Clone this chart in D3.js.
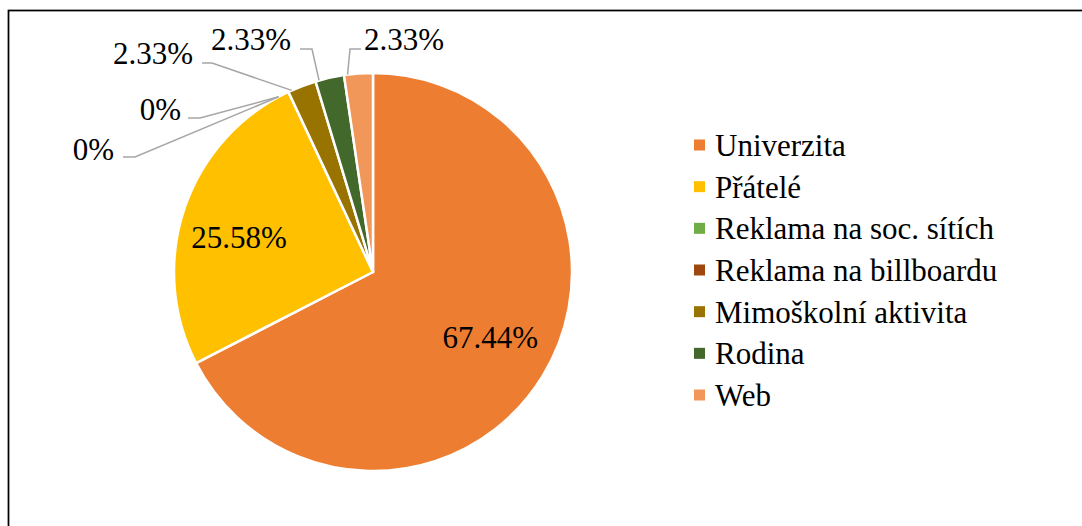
<!DOCTYPE html>
<html>
<head>
<meta charset="utf-8">
<script src="https://cdn.jsdelivr.net/npm/d3@7"></script>
<style>
  html, body { margin: 0; padding: 0; background: #fff; overflow: hidden; }
  #chart { position: relative; width: 1082px; height: 526px; }
  svg { display: block; position: absolute; left: 0; top: 0; }
  .lbl {
    position: absolute; white-space: nowrap; color: #000;
    font-family: "Liberation Serif", Tinos, "Times New Roman", serif;
    font-size: 31px; line-height: 31px; height: 31px;
  }
</style>
</head>
<body>
<div id="chart"></div>
<script>
const categories = [
  'Univerzita',
  'Přátelé',
  'Reklama na soc. sítích',
  'Reklama na billboardu',
  'Mimoškolní aktivita',
  'Rodina',
  'Web',
];
const values = [67.44, 25.58, 0, 0, 2.33, 2.33, 2.33];
const valueLabels = ['67.44%', '25.58%', '0%', '0%', '2.33%', '2.33%', '2.33%'];

const COLORS = ['#ED7D31', '#FFC000', '#70AD47', '#9E480E', '#997300', '#43682B', '#F1975A'];

const W = 1082, H = 526;
const cx = 373, cy = 272, R = 199;
const BASELINE = 26; // px from top of a 31px line box to the text baseline

// inside labels: nudge from the arc centroid
const INSIDE_NUDGE = { 0: [0, 5], 1: [-4, 20] };
// outside labels: elbow point, line end and text anchor (Excel best-fit layout)
const OUTSIDE = {
  2: { elbow: [135, 157], end: [123, 157], text: [114, 160], anchor: 'end' },
  3: { elbow: [200, 118], end: [188, 118], text: [181, 120], anchor: 'end' },
  4: { elbow: [212, 63], end: [202, 63], text: [193, 64], anchor: 'end' },
  5: { elbow: [312, 49], end: [300, 49], text: [291, 50], anchor: 'end' },
  6: { elbow: [350, 49], end: [361, 49], text: [364, 50], anchor: 'start' },
};
const LEADER_SHIFT = -0.055;

const chart = d3.select('#chart');
const svg = chart.append('svg').attr('width', W).attr('height', H);

svg.append('rect')
  .attr('x', 8.5).attr('y', 10.5).attr('width', W + 20).attr('height', H + 20)
  .attr('fill', 'none').attr('stroke', '#000').attr('stroke-width', 1.75);

const pie = d3.pie().value(d => d.value).sort(null);
const arcs = pie(categories.map((c, i) => ({ name: c, value: values[i], i })));
const arc = d3.arc().innerRadius(0).outerRadius(R);
const labelArc = d3.arc().innerRadius(R * 0.69).outerRadius(R * 0.69);

const g = svg.append('g').attr('transform', `translate(${cx},${cy})`);

g.selectAll('path').data(arcs.filter(d => d.value > 0)).enter().append('path')
  .attr('d', arc)
  .attr('fill', d => COLORS[d.data.i])
  .attr('stroke', '#fff').attr('stroke-width', 2.5).attr('stroke-linejoin', 'round');

// text is laid over the svg as html, x/y given as svg-style anchor + baseline
const shift = { start: '0', middle: '-50%', end: '-100%' };
const addText = (x, y, str, anchor) => chart.append('div')
  .attr('class', 'lbl')
  .style('left', x + 'px')
  .style('top', (y - BASELINE) + 'px')
  .style('transform', `translateX(${shift[anchor || 'start']})`)
  .text(str);

// inside labels
arcs.filter(d => INSIDE_NUDGE[d.data.i]).forEach(d => {
  const [x, y] = labelArc.centroid(d);
  const [dx, dy] = INSIDE_NUDGE[d.data.i];
  addText(cx + x + dx, cy + y + dy, valueLabels[d.data.i], 'middle');
});

// outside labels with leader lines
arcs.filter(d => OUTSIDE[d.data.i]).forEach(d => {
  const o = OUTSIDE[d.data.i];
  const a = (d.startAngle + d.endAngle) / 2 + LEADER_SHIFT;
  const start = [cx + R * Math.sin(a), cy - R * Math.cos(a)];
  svg.append('path')
    .attr('d', d3.line()([start, o.elbow, o.end]))
    .attr('fill', 'none').attr('stroke', '#A6A6A6').attr('stroke-width', 1.5);
  addText(o.text[0], o.text[1], valueLabels[d.data.i], o.anchor);
});

// legend
const legendY = d3.scalePoint().domain(categories).range([145, 395]);
categories.forEach((c, i) => {
  const y = legendY(c);
  svg.append('rect')
    .attr('x', 694).attr('y', y - 5.5).attr('width', 11).attr('height', 11)
    .attr('fill', COLORS[i]);
  addText(715, y + 11, c);
});
</script>
</body>
</html>
